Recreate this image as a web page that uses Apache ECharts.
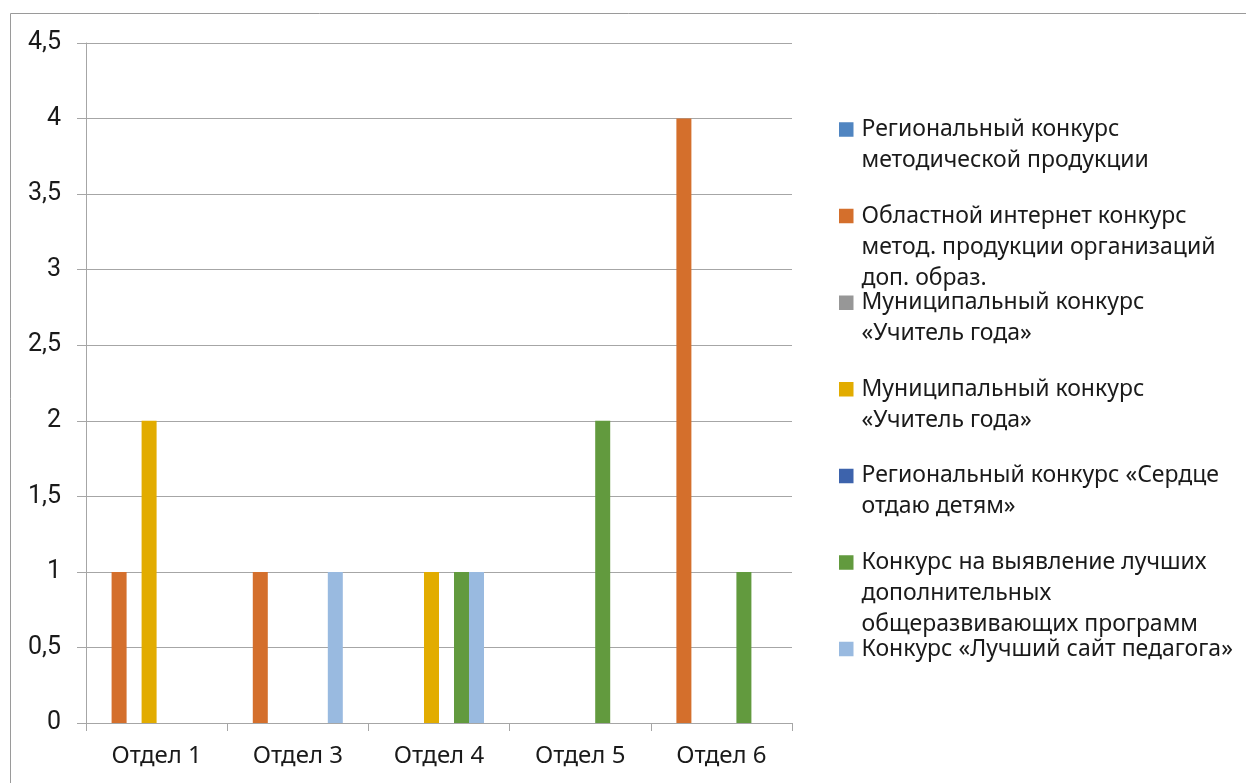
<!DOCTYPE html>
<html>
<head>
<meta charset="utf-8">
<script src="https://cdn.jsdelivr.net/npm/echarts@6/dist/echarts.min.js"></script>
<style>
html,body{margin:0;padding:0;background:#fff;}
#chart{width:1246px;height:783px;}
</style>
</head>
<body>
<div id="chart"></div>
<script>
var categories = ['Отдел 1', 'Отдел 3', 'Отдел 4', 'Отдел 5', 'Отдел 6'];
var seriesNames = [
  'Региональный конкурс методической продукции',
  'Областной интернет конкурс метод. продукции организаций доп. образ.',
  'Муниципальный конкурс «Учитель года»',
  'Муниципальный конкурс «Учитель года»\u200B',
  'Региональный конкурс «Сердце отдаю детям»',
  'Конкурс на выявление лучших дополнительных общеразвивающих программ',
  'Конкурс «Лучший сайт педагога»',
  ''
];
var legendLines = [
  ['Региональный конкурс', 'методической продукции'],
  ['Областной интернет конкурс', 'метод. продукции организаций', 'доп. образ.'],
  ['Муниципальный конкурс', '«Учитель года»'],
  ['Муниципальный конкурс', '«Учитель года»'],
  ['Региональный конкурс «Сердце', 'отдаю детям»'],
  ['Конкурс на выявление лучших', 'дополнительных', 'общеразвивающих программ'],
  ['Конкурс «Лучший сайт педагога»']
];
var values = [
  [null, null, null, null, null],
  [1, 1, null, null, 4],
  [null, null, null, null, null],
  [2, null, 1, null, null],
  [null, null, null, null, null],
  [null, null, 1, 2, 1],
  [null, 1, 1, null, null],
  [null, null, null, null, null]
];

var colors = ['#5085C1', '#D46F2C', '#979797', '#E2AC00', '#3D63AC', '#629A3E', '#99BAE0', '#8FA9D0'];
var legendCenter0 = 129.5, legendStep = 86.6, lineH = 31, sq = 14.5, iconW = 17.5;

var chart = echarts.init(document.getElementById('chart'), null, {renderer: 'canvas'});

var series = seriesNames.map(function (n, i) {
  return {
    type: 'bar',
    name: n,
    data: values[i],
    barGap: '0%',
    barCategoryGap: '15%',
    itemStyle: {color: colors[i]},
    silent: true
  };
});

var legends = legendLines.map(function (lines, i) {
  var n = lines.length;
  var h = (n - 1) * lineH + sq;
  var center = legendCenter0 + i * legendStep;
  var icon = 'path://M0,0H' + sq + 'V' + sq + 'H0Z M' + (iconW - 0.01) + ',' + (h - 0.01) +
    'H' + iconW + 'V' + h + 'H' + (iconW - 0.01) + 'Z';
  return {
    left: 839,
    top: center - lineH / 2,
    padding: 0,
    orient: 'vertical',
    itemWidth: iconW,
    itemHeight: h,
    itemGap: 0,
    icon: icon,
    selectedMode: false,
    data: [{name: seriesNames[i], itemStyle: {color: colors[i]}}],
    formatter: function () { return lines.join('\n'); },
    textStyle: {
      fontFamily: 'Noto Sans',
      fontSize: 23,
      color: '#1a1a1a',
      lineHeight: lineH
    }
  };
});

var option = {
  backgroundColor: '#ffffff',
  animation: false,
  color: colors,
  graphic: [{
    type: 'rect',
    shape: {x: 10.5, y: 13.5, width: 1400, height: 900},
    style: {fill: 'none', stroke: '#9a9a9a', lineWidth: 1},
    silent: true
  }],
  legend: legends,
  grid: {left: 86, right: 454, top: 43, bottom: 60, containLabel: false},
  xAxis: {
    type: 'category',
    data: categories,
    boundaryGap: true,
    axisLine: {show: true, lineStyle: {color: '#a6a6a6', width: 1}},
    axisTick: {show: true, length: 8, alignWithLabel: false, lineStyle: {color: '#a6a6a6'}},
    axisLabel: {fontFamily: 'Noto Sans', fontSize: 24, color: '#1a1a1a', margin: 21}
  },
  yAxis: {
    type: 'value',
    min: 0,
    max: 4.5,
    interval: 0.5,
    axisLine: {show: true, lineStyle: {color: '#a6a6a6', width: 1}},
    axisTick: {show: true, length: 9, lineStyle: {color: '#a6a6a6'}},
    splitLine: {show: true, lineStyle: {color: '#a6a6a6', width: 1}},
    axisLabel: {
      fontFamily: 'Roboto', fontSize: 25, color: '#1a1a1a', margin: 25,
      formatter: function (v) { return String(v).replace('.', ','); }
    }
  },
  series: series
};
chart.setOption(option);
</script>
</body>
</html>
